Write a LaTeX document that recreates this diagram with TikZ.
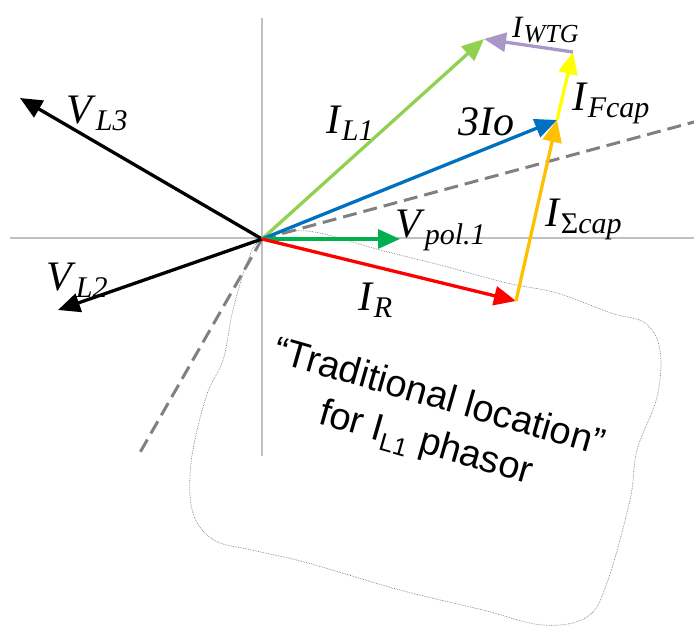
\documentclass[tikz,border=0pt]{standalone}
\usepackage{fontspec}
\setmainfont{Liberation Serif}
\newfontfamily\notefont{Liberation Sans}
\usepackage{tikz}
\usetikzlibrary{arrows.meta}
\usepackage{xcolor}
\definecolor{ilgreen}{RGB}{146,208,80}
\definecolor{wtgpurple}{RGB}{168,152,200}
\definecolor{fcapyellow}{RGB}{255,255,0}
\definecolor{zeroblue}{RGB}{0,112,192}
\definecolor{capamber}{RGB}{255,192,0}
\definecolor{polgreen}{RGB}{0,176,80}
\definecolor{resred}{RGB}{255,0,0}
\definecolor{axisgray}{RGB}{192,192,192}
\definecolor{dashgray}{RGB}{128,128,128}

\newcommand{\phlabel}[2]{\textit{#1}\raisebox{-7pt}{\fontsize{30}{32}\selectfont\textit{#2}}}

\begin{document}
\begin{tikzpicture}[x=1pt, y=-1pt,
				axis/.style={axisgray, line width=1.8pt},
				refline/.style={dashgray, line width=3pt, dash pattern=on 14pt off 7pt},
				phasor/.style={-{Triangle[length=22pt, width=19pt]}, line width=3.3pt},
				lbl/.style={font=\fontsize{42}{44}\selectfont, inner sep=0pt, anchor=base west},
				blob/.style={gray, densely dotted, line width=0.7pt}
			]
			\useasboundingbox (0,0) rectangle (694,627);

			% --- Origin and phasor end points ---
			\coordinate (O) at (262,239);
			\coordinate (v_l3) at (20,98);
			\coordinate (v_l2) at (58,310);
			\coordinate (v_pol) at (400,239);
			\coordinate (i_r) at (516,301);
			\coordinate (i_zero) at (557,120);
			\coordinate (i_fcap) at (573,52);
			\coordinate (i_l1) at (484,39);

			% --- Axes and reference lines ---
			\coordinate (ax_w) at (10,238);
			\coordinate (ax_e) at (694,238);
			\coordinate (ax_n) at (262,18);
			\coordinate (ax_s) at (262,456);
			\draw[axis] (ax_w) -- (ax_e);
			\draw[axis] (ax_n) -- (ax_s);

			\coordinate (ref_ne) at (694,122);
			\coordinate (ref_sw) at (138,456);
			\draw[refline] (O) -- (ref_ne);
			\draw[refline] (O) -- (ref_sw);

			% --- Region of the traditional I_L1 location ---
			\draw[blob] plot[smooth cycle, tension=0.6] coordinates {
				(262,240) (307,231) (380,250) (440,265) (507,283) (557,293)
				(611,313) (645,323) (660,350) (657,397) (637,450) (630,500)
				(607,583) (587,617) (543,625) (483,610) (400,590) (308,563)
				(252,550) (214,540) (193,513) (191,463) (206,397) (223,360)
				(233,310) (248,260)};
			\node[rotate=-16, align=center, inner sep=0pt, font=\notefont\fontsize{38}{47}\selectfont] (note) at (432,422)
				{“Traditional location”\\for I\raisebox{-9pt}{\fontsize{25}{26}\selectfont L1} phasor};

			% --- Phasors ---
			\draw[phasor, black] (O) -- (v_l3);
			\draw[phasor, black] (O) -- (v_l2);
			\draw[phasor, ilgreen] (O) -- (i_l1);
			\draw[phasor, zeroblue] (O) -- (i_zero);
			\draw[phasor, polgreen] (O) -- (v_pol);
			\draw[phasor, resred] (O) -- (i_r);
			\draw[phasor, capamber] (i_r) -- (i_zero);
			\draw[phasor, fcapyellow] (i_zero) -- (i_fcap);
			\draw[phasor, wtgpurple] (i_fcap) -- (i_l1);

			% --- Labels ---
			\node[lbl] (lbl_vl3) at (66,123) {\phlabel{V}{L3}};
			\node[lbl] (lbl_vl2) at (46,290) {\phlabel{V}{L2}};
			\node[lbl] (lbl_il1) at (326,133) {\phlabel{I}{L1}};
			\node[lbl] (lbl_zero) at (458,135) {\textit{3Io}};
			\node[lbl, font=\fontsize{31}{33}\selectfont] (lbl_wtg) at (512,37)
				{\textit{I}\raisebox{-5pt}{\fontsize{26}{28}\selectfont\textit{WTG}}};
			\node[lbl] (lbl_fcap) at (572,110) {\phlabel{I}{Fcap}};
			\node[lbl] (lbl_scap) at (545,226) {\phlabel{I}{{\upshape Σ}cap}};
			\node[lbl] (lbl_pol) at (395,237) {\phlabel{V}{pol.1}};
			\node[lbl] (lbl_ir) at (358,310) {\phlabel{I}{R}};

		\end{tikzpicture}
\end{document}
